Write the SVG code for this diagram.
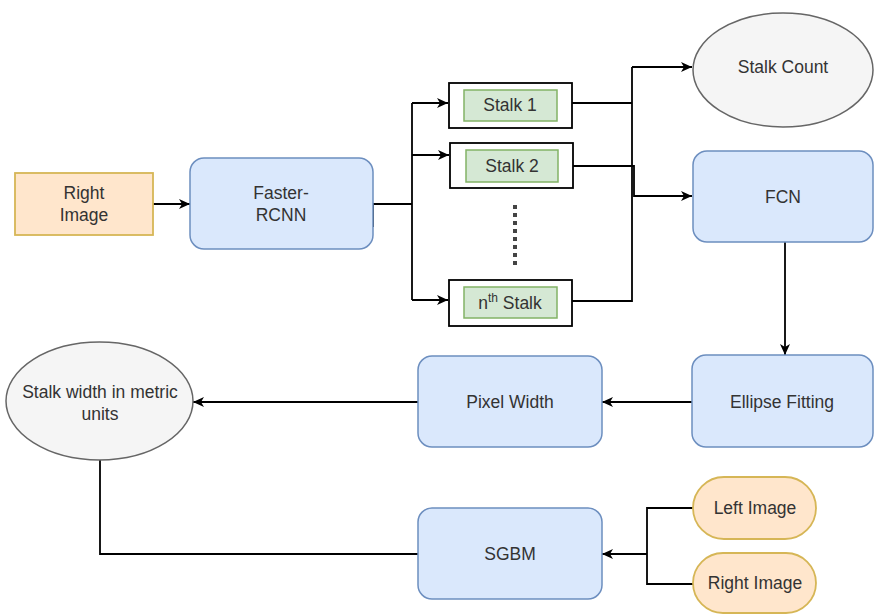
<svg xmlns="http://www.w3.org/2000/svg" width="874" height="615" viewBox="0 0 874 615">
<defs>
<marker id="arr" markerUnits="userSpaceOnUse" markerWidth="12" markerHeight="10" refX="11" refY="5" orient="auto">
<path d="M0,0 L11,5 L0,10 L3,5 Z" fill="#000"/>
</marker>
<style>
.blue{fill:#dae8fc;stroke:#6c8ebf;stroke-width:1.5}
.orange{fill:#ffe6cc;stroke:#d6b656;stroke-width:1.8}
.grey{fill:#f5f5f5;stroke:#666;stroke-width:1.5}
.outer{fill:#fff;stroke:#000;stroke-width:1.8}
.green{fill:#d5e8d4;stroke:#82b366;stroke-width:1.5}
.t{font-family:"Liberation Sans",Arial,sans-serif;font-size:17.5px;fill:#333;text-anchor:middle}
.c{fill:none;stroke:#000;stroke-width:1.8}
.a{marker-end:url(#arr)}
</style>
</defs>
<rect width="874" height="615" fill="#fff"/>
<g id="connectors">
<path class="c a" d="M153,204 L190,204"/>
<path class="c" d="M373,227 L373,204 L412,204"/>
<path class="c" d="M412,103 L412,300"/>
<path class="c a" d="M412,103 L448,103"/>
<path class="c a" d="M412,155 L449,155"/>
<path class="c a" d="M412,300 L448,300"/>
<path class="c" d="M572,103 L632,103"/>
<path class="c" d="M572,301 L632,301 L632,67"/>
<path class="c a" d="M632,67 L692,67"/>
<path class="c a" d="M573,166 L634,166 L634,196 L692,196"/>
<path d="M515,205 L515,269" fill="none" stroke="#444" stroke-width="4" stroke-dasharray="4 4"/>
<path class="c a" d="M785,242 L785,355"/>
<path class="c a" d="M692,402 L602,402"/>
<path class="c a" d="M418,402 L193,402"/>
<path class="c" d="M100,460 L100,554 L418,554"/>
<path class="c a" d="M647,554 L602,554"/>
<path class="c" d="M693,508 L647,508 L647,584 L693,584"/>
</g>
<g id="right-image-top">
<rect class="orange" x="15" y="173" width="138" height="62"/>
<text class="t" x="84" y="199">Right</text>
<text class="t" x="84" y="221">Image</text>
</g>
<g id="faster-rcnn">
<rect class="blue" x="190" y="158" width="183" height="91" rx="14"/>
<text class="t" x="281" y="199">Faster-</text>
<text class="t" x="281" y="221">RCNN</text>
</g>
<g id="stalk1">
<rect class="outer" x="449" y="83" width="123" height="45"/>
<rect class="green" x="464" y="90" width="93" height="31"/>
<text class="t" x="510" y="111">Stalk 1</text>
</g>
<g id="stalk2">
<rect class="outer" x="450" y="143" width="123" height="45"/>
<rect class="green" x="466" y="150" width="92" height="32"/>
<text class="t" x="512" y="172">Stalk 2</text>
</g>
<g id="stalkn">
<rect class="outer" x="449" y="280" width="123" height="46"/>
<rect class="green" x="464" y="287" width="93" height="31"/>
<text class="t" x="510" y="309">n<tspan font-size="12" dy="-7">th</tspan><tspan dy="7"> Stalk</tspan></text>
</g>
<g id="stalk-count">
<ellipse class="grey" cx="783" cy="70" rx="90" ry="57"/>
<text class="t" x="783" y="73">Stalk Count</text>
</g>
<g id="fcn">
<rect class="blue" x="693" y="151" width="180" height="91" rx="14"/>
<text class="t" x="783" y="203">FCN</text>
</g>
<g id="ellipse-fitting">
<rect class="blue" x="692" y="355" width="181" height="92" rx="14"/>
<text class="t" x="782" y="408">Ellipse Fitting</text>
</g>
<g id="pixel-width">
<rect class="blue" x="418" y="356" width="184" height="91" rx="14"/>
<text class="t" x="510" y="408">Pixel Width</text>
</g>
<g id="stalk-width">
<ellipse class="grey" cx="99.5" cy="401" rx="93.5" ry="59"/>
<text class="t" x="100" y="398">Stalk width in metric</text>
<text class="t" x="100" y="420">units</text>
</g>
<g id="sgbm">
<rect class="blue" x="418" y="508" width="184" height="91" rx="14"/>
<text class="t" x="510" y="560">SGBM</text>
</g>
<g id="left-image">
<rect class="orange" x="693" y="477" width="123" height="62" rx="31"/>
<text class="t" x="755" y="514">Left Image</text>
</g>
<g id="right-image-bottom">
<rect class="orange" x="693" y="553" width="123" height="60" rx="30"/>
<text class="t" x="755" y="589">Right Image</text>
</g>
</svg>
